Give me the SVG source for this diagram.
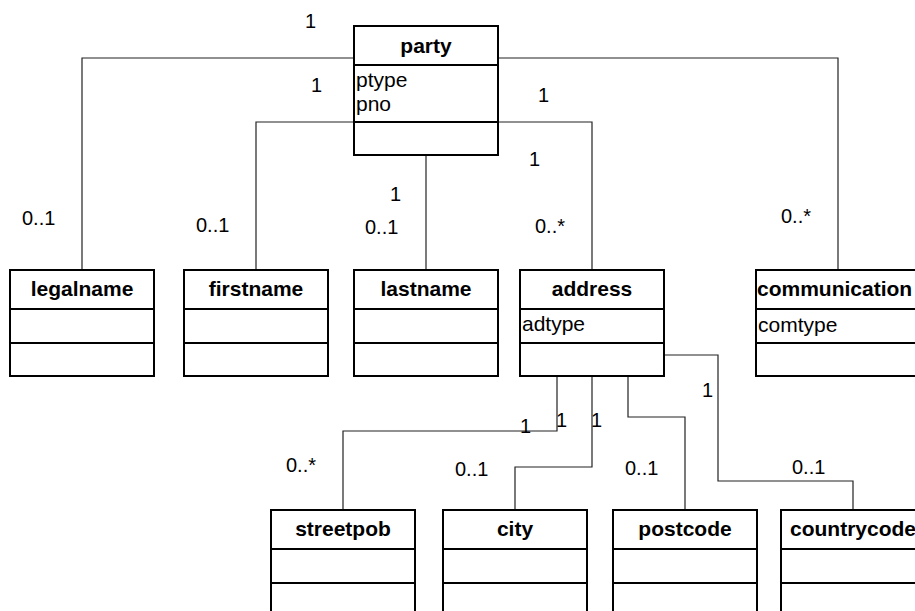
<svg xmlns="http://www.w3.org/2000/svg" width="915" height="611" viewBox="0 0 915 611">
<style>
.box{fill:#fff;stroke:#000;stroke-width:2}
.sep{stroke:#000;stroke-width:2}
.title{font-family:"Liberation Sans",Arial,sans-serif;font-size:21px;font-weight:bold;text-anchor:middle;fill:#000}
.attr{font-family:"Liberation Sans",Arial,sans-serif;font-size:21px;fill:#000}
.lbl{font-family:"Liberation Sans",Arial,sans-serif;font-size:20px;fill:#000}
.conn{fill:none;stroke:#222;stroke-width:1.2}
</style>
<rect width="915" height="611" fill="#fff"/>
<g id="connectors">
<path class="conn" d="M354,58 H82 V270"/>
<path class="conn" d="M498,58 H838 V270"/>
<path class="conn" d="M354,122 H256 V270"/>
<path class="conn" d="M498,122 H592 V270"/>
<path class="conn" d="M426,155 V270"/>
<path class="conn" d="M557,376 V431 H343 V510"/>
<path class="conn" d="M592,376 V467 H515 V510"/>
<path class="conn" d="M628,376 V417 H685 V510"/>
<path class="conn" d="M664,355 H718 V481 H853 V510"/>
</g>
<g id="labels">
<text class="lbl" x="305" y="28">1</text>
<text class="lbl" x="311" y="92">1</text>
<text class="lbl" x="22" y="225">0..1</text>
<text class="lbl" x="196" y="232">0..1</text>
<text class="lbl" x="390" y="201">1</text>
<text class="lbl" x="365" y="234">0..1</text>
<text class="lbl" x="538" y="102">1</text>
<text class="lbl" x="529" y="166">1</text>
<text class="lbl" x="535" y="233">0..*</text>
<text class="lbl" x="781" y="223">0..*</text>
<text class="lbl" x="520" y="433">1</text>
<text class="lbl" x="556" y="427">1</text>
<text class="lbl" x="591" y="427">1</text>
<text class="lbl" x="286" y="472">0..*</text>
<text class="lbl" x="455" y="476">0..1</text>
<text class="lbl" x="625" y="475">0..1</text>
<text class="lbl" x="702" y="397">1</text>
<text class="lbl" x="792" y="474">0..1</text>
</g>
<g id="party">
<rect class="box" x="354" y="26" width="144" height="129"/>
<line class="sep" x1="354" y1="65" x2="498" y2="65"/>
<line class="sep" x1="354" y1="122" x2="498" y2="122"/>
<text class="title" x="426" y="53">party</text>
<text class="attr" x="356" y="87">ptype</text>
<text class="attr" x="356" y="111">pno</text>
</g>
<g id="legalname">
<rect class="box" x="10" y="270" width="144" height="106"/>
<line class="sep" x1="10" y1="309" x2="154" y2="309"/>
<line class="sep" x1="10" y1="343" x2="154" y2="343"/>
<text class="title" x="82" y="296">legalname</text>
</g>
<g id="firstname">
<rect class="box" x="184" y="270" width="144" height="106"/>
<line class="sep" x1="184" y1="309" x2="328" y2="309"/>
<line class="sep" x1="184" y1="343" x2="328" y2="343"/>
<text class="title" x="256" y="296">firstname</text>
</g>
<g id="lastname">
<rect class="box" x="354" y="270" width="144" height="106"/>
<line class="sep" x1="354" y1="309" x2="498" y2="309"/>
<line class="sep" x1="354" y1="343" x2="498" y2="343"/>
<text class="title" x="426" y="296">lastname</text>
</g>
<g id="address">
<rect class="box" x="520" y="270" width="144" height="106"/>
<line class="sep" x1="520" y1="309" x2="664" y2="309"/>
<line class="sep" x1="520" y1="343" x2="664" y2="343"/>
<text class="title" x="592" y="296">address</text>
<text class="attr" x="522" y="331">adtype</text>
</g>
<g id="communication">
<rect class="box" x="756" y="270" width="170" height="106"/>
<line class="sep" x1="756" y1="309" x2="926" y2="309"/>
<line class="sep" x1="756" y1="343" x2="926" y2="343"/>
<text class="title" x="757" y="296" style="text-anchor:start">communication</text>
<text class="attr" x="758" y="332">comtype</text>
</g>
<g id="streetpob">
<rect class="box" x="271" y="510" width="144" height="110"/>
<line class="sep" x1="271" y1="549" x2="415" y2="549"/>
<line class="sep" x1="271" y1="583" x2="415" y2="583"/>
<text class="title" x="343" y="536">streetpob</text>
</g>
<g id="city">
<rect class="box" x="443" y="510" width="144" height="110"/>
<line class="sep" x1="443" y1="549" x2="587" y2="549"/>
<line class="sep" x1="443" y1="583" x2="587" y2="583"/>
<text class="title" x="515" y="536">city</text>
</g>
<g id="postcode">
<rect class="box" x="613" y="510" width="144" height="110"/>
<line class="sep" x1="613" y1="549" x2="757" y2="549"/>
<line class="sep" x1="613" y1="583" x2="757" y2="583"/>
<text class="title" x="685" y="536">postcode</text>
</g>
<g id="countrycode">
<rect class="box" x="781" y="510" width="144" height="110"/>
<line class="sep" x1="781" y1="549" x2="925" y2="549"/>
<line class="sep" x1="781" y1="583" x2="925" y2="583"/>
<text class="title" x="853" y="536">countrycode</text>
</g>
</svg>
